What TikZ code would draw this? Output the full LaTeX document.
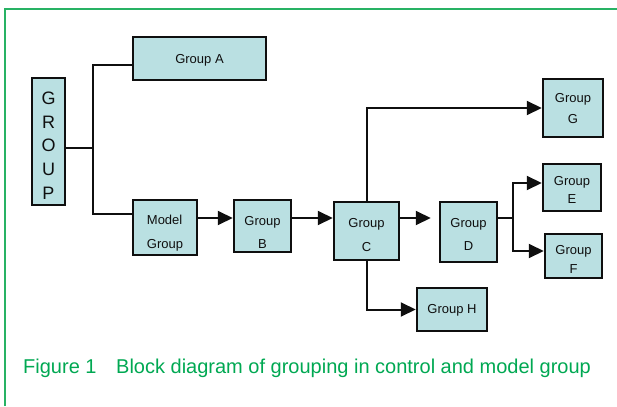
\documentclass[tikz,border=0pt]{standalone}
\usepackage{fontspec}
\setmainfont{Liberation Sans}
\usetikzlibrary{arrows.meta}
\definecolor{boxfill}{RGB}{186,224,226}
\definecolor{framegreen}{RGB}{40,178,100}
\definecolor{capgreen}{RGB}{0,168,82}
\definecolor{ink}{RGB}{15,15,15}
\tikzset{
  blk/.style={draw=ink, fill=boxfill, line width=2.5pt, inner sep=0pt},
  txt/.style={inner sep=0pt, align=center, text=ink},
  lines/.style={font=\fontsize{13}{#1}\selectfont},
  conn/.style={draw=ink, line width=2pt},
  arr/.style={conn, -{Triangle[length=15pt,width=14pt]}},
}
\begin{document}
\begin{tikzpicture}[x=1pt,y=-1pt]
\useasboundingbox (0,0) rectangle (617,406);
\draw[framegreen, line width=2pt] (5,406) -- (5,9.5) -- (617,9.5);

\node[blk, minimum width=33pt, minimum height=127pt,
  label={[txt, yshift=-4pt, font=\fontsize{18}{23.7}\selectfont]center:{G\\R\\O\\U\\P}}] (grp) at (48.5,141.5) {};
\node[blk, minimum width=133pt, minimum height=43pt,
  label={[txt, yshift=-2pt, lines=15]center:{Group A}}] (A) at (199.5,58.5) {};
\node[blk, minimum width=64pt, minimum height=55pt,
  label={[txt, yshift=-6pt, lines=24, align=left]center:{Model\\Group}}] (M) at (165,227.5) {};
\node[blk, minimum width=57pt, minimum height=52pt,
  label={[txt, yshift=-6pt, lines=23]center:{Group\\B}}] (B) at (262.5,226) {};
\node[blk, minimum width=65pt, minimum height=58pt,
  label={[txt, yshift=-4pt, lines=24]center:{Group\\C}}] (C) at (366.5,231) {};
\node[blk, minimum width=57pt, minimum height=60pt,
  label={[txt, yshift=-2pt, lines=23]center:{Group\\D}}] (D) at (468.5,232) {};
\node[blk, minimum width=58pt, minimum height=47pt,
  label={[txt, yshift=-2pt, lines=18]center:{Group\\E}}] (E) at (572,187.5) {};
\node[blk, minimum width=57pt, minimum height=44pt,
  label={[txt, yshift=-3pt, lines=19]center:{Group\\F}}] (F) at (573.5,256) {};
\node[blk, minimum width=60pt, minimum height=58pt,
  label={[txt, yshift=-1pt, lines=21]center:{Group\\G}}] (G) at (573,108) {};
\node[blk, minimum width=70pt, minimum height=43pt,
  label={[txt, yshift=-1pt, lines=15]center:{Group H}}] (H) at (452,309.5) {};

\coordinate (jA) at (93,65);
\coordinate (jG) at (93,148);
\coordinate (jM) at (93,214);
\coordinate (r1) at (0,218);
\coordinate (jD) at (513,218);
\coordinate (jE) at (513,183);
\coordinate (jF) at (513,251);

\draw[conn] (grp.east |- jG) -- (jG);
\draw[conn] (A.west |- jA) -- (jA) -- (jM) -- (M.west |- jM);
\draw[arr] (M.east |- r1) -- (B.west |- r1);
\draw[arr] (B.east |- r1) -- (C.west |- r1);
\draw[arr, shorten >=8pt] (C.east |- r1) -- (D.west |- r1);
\draw[conn] (D.east |- jD) -- (jD);
\draw[arr] (jD) -- (jE) -- (E.west |- jE);
\draw[arr] (jD) -- (jF) -- (F.west |- jF);
\draw[arr] (C.north) |- (G.west);
\draw[arr] (C.south) |- (H.west);

\node[anchor=base west, inner sep=0pt, text=capgreen, font=\fontsize{20}{22}\selectfont] (cap1) at (23,373) {Figure 1};
\node[anchor=base west, inner sep=0pt, text=capgreen, font=\fontsize{20}{22}\selectfont] (cap2) at (116,373) {Block diagram of grouping in control and model group};
\end{tikzpicture}
\end{document}
